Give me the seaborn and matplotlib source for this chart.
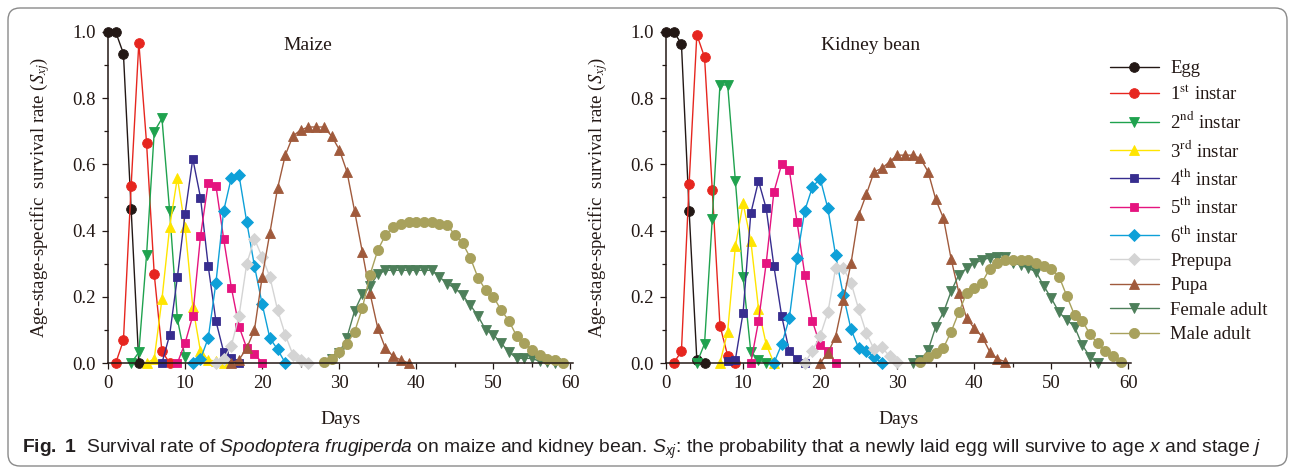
import matplotlib
matplotlib.use("Agg")
import matplotlib.pyplot as plt
import seaborn as sns
from matplotlib.patches import FancyBboxPatch
from matplotlib.transforms import IdentityTransform
from matplotlib.ticker import MultipleLocator, FormatStrFormatter

# ---- data (survival rate S_xj) ----
stage_labels = ["Egg", "1$^{\\mathrm{st}}$ instar", "2$^{\\mathrm{nd}}$ instar",
                "3$^{\\mathrm{rd}}$ instar", "4$^{\\mathrm{th}}$ instar",
                "5$^{\\mathrm{th}}$ instar", "6$^{\\mathrm{th}}$ instar",
                "Prepupa", "Pupa", "Female adult", "Male adult"]

# first day of each series
maize_start = [0, 1, 3, 5, 7, 9, 11, 14, 16, 29, 28]
maize_egg = [1.0, 1.0, 0.935, 0.466, 0.0]
maize_1st = [0.0, 0.068, 0.534, 0.968, 0.665, 0.268, 0.035, 0.0]
maize_2nd = [0.0, 0.032, 0.326, 0.699, 0.739, 0.458, 0.133, 0.017]
maize_3rd = [0.0, 0.013, 0.193, 0.411, 0.56, 0.411, 0.17, 0.035, 0.01, 0.005, 0.0]
maize_4th = [0.0, 0.085, 0.259, 0.451, 0.617, 0.5, 0.293, 0.127, 0.034, 0.015, 0.0]
maize_5th = [0.0, 0.06, 0.143, 0.383, 0.544, 0.536, 0.376, 0.228, 0.11, 0.045, 0.028, 0.0]
maize_6th = [0.0, 0.012, 0.075, 0.242, 0.459, 0.56, 0.567, 0.426, 0.293, 0.178, 0.075,
             0.041, 0.0]
maize_prepupa = [0.0, 0.013, 0.052, 0.143, 0.3, 0.375, 0.32, 0.26, 0.16, 0.085, 0.024,
                 0.009, 0.0]
maize_pupa = [0.0, 0.01, 0.045, 0.1, 0.26, 0.393, 0.528, 0.628, 0.686, 0.704, 0.713,
              0.713, 0.713, 0.686, 0.645, 0.578, 0.458, 0.335, 0.21, 0.105, 0.044,
              0.02, 0.009, 0.0]
maize_female = [0.012, 0.03, 0.077, 0.158, 0.208, 0.233, 0.268, 0.28, 0.28, 0.28, 0.28,
                0.28, 0.28, 0.28, 0.26, 0.24, 0.226, 0.205, 0.175, 0.142, 0.1, 0.085,
                0.06, 0.034, 0.014, 0.014, 0.014, 0.005, 0.003, 0.0]
maize_male = [0.004, 0.012, 0.033, 0.058, 0.095, 0.166, 0.267, 0.341, 0.387, 0.41, 0.42,
              0.425, 0.425, 0.425, 0.425, 0.421, 0.417, 0.387, 0.362, 0.318, 0.258,
              0.22, 0.2, 0.16, 0.128, 0.082, 0.06, 0.04, 0.024, 0.012, 0.009, 0.0]

bean_start = [0, 1, 4, 7, 8, 11, 14, 18, 20, 32, 33]
bean_egg = [1.0, 1.0, 0.965, 0.46, 0.01, 0.0]
bean_1st = [0.0, 0.035, 0.542, 0.992, 0.924, 0.524, 0.113, 0.022, 0.0]
bean_2nd = [0.0, 0.058, 0.434, 0.84, 0.84, 0.55, 0.26, 0.034, 0.01, 0.0]
bean_3rd = [0.0, 0.095, 0.353, 0.482, 0.37, 0.164, 0.056, 0.0]
bean_4th = [0.007, 0.01, 0.152, 0.452, 0.55, 0.467, 0.292, 0.143, 0.035, 0.012, 0.0]
bean_5th = [0.0, 0.126, 0.302, 0.517, 0.6, 0.583, 0.426, 0.267, 0.126, 0.054, 0.037, 0.0]
bean_6th = [0.0, 0.056, 0.135, 0.318, 0.46, 0.532, 0.557, 0.467, 0.326, 0.205, 0.102,
            0.044, 0.037, 0.017, 0.0]
bean_prepupa = [0.0, 0.037, 0.082, 0.153, 0.286, 0.286, 0.243, 0.162, 0.09, 0.041,
                0.047, 0.021, 0.004]
bean_pupa = [0.0, 0.03, 0.08, 0.19, 0.301, 0.447, 0.51, 0.578, 0.588, 0.608, 0.628,
             0.628, 0.628, 0.618, 0.578, 0.494, 0.437, 0.313, 0.212, 0.135, 0.105,
             0.08, 0.034, 0.012, 0.004]
bean_female = [0.0, 0.008, 0.038, 0.11, 0.153, 0.217, 0.267, 0.286, 0.301, 0.311, 0.318,
               0.32, 0.319, 0.303, 0.296, 0.286, 0.276, 0.233, 0.195, 0.153, 0.13,
               0.11, 0.054, 0.019, 0.0]
bean_male = [0.004, 0.019, 0.029, 0.046, 0.095, 0.154, 0.211, 0.228, 0.243, 0.285,
             0.301, 0.31, 0.311, 0.311, 0.311, 0.301, 0.293, 0.284, 0.261, 0.202,
             0.145, 0.128, 0.087, 0.059, 0.037, 0.022, 0.004]

maize_series = [maize_egg, maize_1st, maize_2nd, maize_3rd, maize_4th, maize_5th,
                maize_6th, maize_prepupa, maize_pupa, maize_female, maize_male]
bean_series = [bean_egg, bean_1st, bean_2nd, bean_3rd, bean_4th, bean_5th, bean_6th,
               bean_prepupa, bean_pupa, bean_female, bean_male]

colors = ["#231815", "#e6261f", "#1fa24e", "#ffe500", "#372d8f", "#e5147f",
          "#0ea0d8", "#d4d4d4", "#a05a3c", "#4d7f5a", "#a8a15c"]
markers = ["o", "o", "v", "^", "s", "s", "D", "D", "^", "v", "o"]
msizes = [7, 7, 7.5, 7.5, 6.3, 6.3, 6, 6, 7.5, 7.5, 7.3]

# ---- style ----
sns.set_style("ticks")
cap_font = "Liberation Sans"
plt.rcParams["font.family"] = ["Liberation Serif", "DejaVu Serif"]
plt.rcParams["mathtext.fontset"] = "custom"
plt.rcParams["mathtext.rm"] = cap_font
plt.rcParams["mathtext.it"] = cap_font + ":italic"
plt.rcParams["mathtext.bf"] = cap_font + ":bold"

W, H = 1295, 472
fig = plt.figure(figsize=(W / 100, H / 100), dpi=100)
ax_w, ax_h = 464.8 / W, 331 / H
bottom = 1 - 363 / H
ax1 = fig.add_axes([108 / W, bottom, ax_w, ax_h])
ax2 = fig.add_axes([666 / W, bottom, ax_w, ax_h])

axis_col = "#231815"
for ax, series, starts, name in [(ax1, maize_series, maize_start, "Maize"),
                                 (ax2, bean_series, bean_start, "Kidney bean")]:
    for vals, s0, lab, c, m, ms in zip(series, starts, stage_labels, colors,
                                       markers, msizes):
        days = list(range(s0, s0 + len(vals)))
        sns.lineplot(x=days, y=vals, ax=ax, color=c, marker=m, markersize=ms,
                     markeredgecolor=c, markeredgewidth=0.6, linewidth=1.0,
                     label=lab, clip_on=False)
    if ax.get_legend():
        ax.get_legend().remove()
    ax.set_xlim(0, 60.3)
    ax.set_ylim(0, 1.0)
    ax.xaxis.set_major_locator(MultipleLocator(10))
    ax.xaxis.set_minor_locator(MultipleLocator(5))
    ax.yaxis.set_major_locator(MultipleLocator(0.2))
    ax.yaxis.set_minor_locator(MultipleLocator(0.1))
    ax.yaxis.set_major_formatter(FormatStrFormatter("%.1f"))
    ax.tick_params(which="both", direction="out", color=axis_col, width=0.9,
                   labelsize=13.5, labelcolor=axis_col)
    ax.tick_params(which="major", length=4, pad=5)
    ax.tick_params(which="minor", length=3)
    sns.despine(ax=ax)
    for sp in ("left", "bottom"):
        ax.spines[sp].set_color(axis_col)
        ax.spines[sp].set_linewidth(1.1)
    ax.set_xlabel("Days", fontsize=14, color=axis_col)
    ax.set_ylabel("Age-stage-specific  survival rate ($S_{xj}$)", fontsize=13.5,
                  color=axis_col, math_fontfamily="stix")
    ax.yaxis.set_label_coords(-0.12, 0.5)
    ax.xaxis.set_label_coords(0.5, -0.145)
    ax.text(0.43 if name == "Maize" else 0.44, 0.96, name, transform=ax.transAxes,
            ha="center", va="center", fontsize=14, color=axis_col)

leg = fig.legend(handles=ax1.get_lines()[:11], loc="upper left",
                 bbox_to_anchor=(1110 / W, 1 - 60 / H), frameon=False,
                 fontsize=13.5, handlelength=2.6, handletextpad=0.6,
                 labelspacing=0.39, borderpad=0, borderaxespad=0)
for t in leg.get_texts():
    t.set_math_fontfamily("stix")
    t.set_color(axis_col)

caption = (r"$\mathbf{Fig.\ 1}$  Survival rate of $\mathit{Spodoptera\ frugiperda}$ "
           r"on maize and kidney bean. $S_{xj}$: the probability that a newly laid egg "
           r"will survive to age $x$ and stage $j$")
fig.text(22 / W, 1 - 449 / H, caption, fontsize=13.9, family=cap_font,
         va="center", ha="left", color="#231f20")

frame = FancyBboxPatch((8, 6), 1279, 458, boxstyle="round,pad=0,rounding_size=12",
                       transform=IdentityTransform(), fill=False,
                       edgecolor="#8a8a8a", linewidth=1.0)
fig.add_artist(frame)

fig.savefig("out.png", dpi=100)
